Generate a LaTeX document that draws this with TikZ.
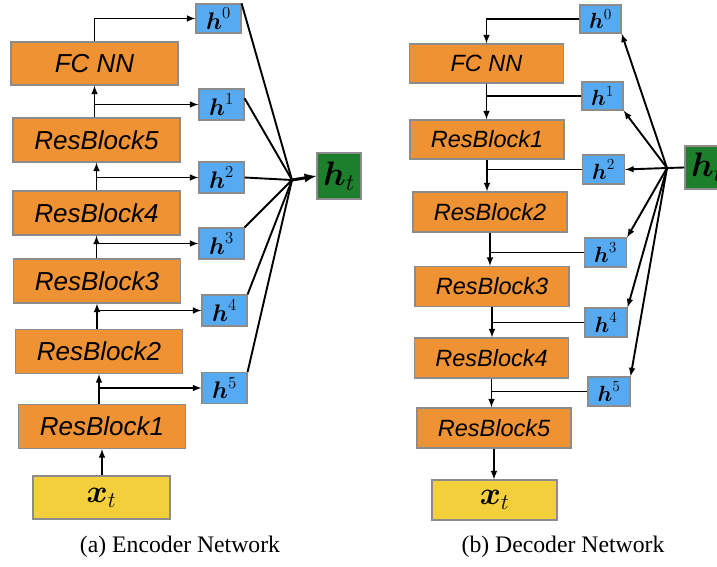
\RequirePackage{fix-cm}
\documentclass[tikz,border=0pt]{standalone}
\usepackage{amsmath}
\usepackage{amssymb}
\usepackage{fontspec}
\usepackage{xcolor}
\newfontfamily\blockfont{Liberation Sans}
\newfontfamily\capfont{Liberation Serif}
\definecolor{naranja}{HTML}{EE9233}
\definecolor{azul}{HTML}{56AAF2}
\definecolor{verde}{HTML}{1D7F2B}
\definecolor{amarillo}{HTML}{F2CF3B}
\definecolor{borde}{HTML}{8C8C8C}

\begin{document}
\begin{tikzpicture}[x=1pt, y=-1pt,
  caja/.style={draw=borde, line width=1.2pt, inner sep=0pt},
  bloque/.style={caja, fill=naranja, minimum width=167pt, minimum height=44pt,
    font=\blockfont\itshape\fontsize{26}{26}\selectfont},
  bloqued/.style={bloque, minimum width=154pt, minimum height=40pt,
    font=\blockfont\itshape\fontsize{23.5}{23.5}\selectfont},
  oculto/.style={caja, fill=azul, minimum width=45pt, minimum height=31pt,
    font=\fontsize{24}{24}\selectfont},
  ocultod/.style={oculto, minimum width=42pt, minimum height=29pt,
    font=\fontsize{22}{22}\selectfont},
  entrada/.style={caja, fill=amarillo, minimum height=43pt, font=\fontsize{32}{32}\selectfont},
  salida/.style={caja, fill=verde, font=\fontsize{34}{34}\selectfont},
  linea/.style={line width=1.9pt},
  flecha/.style={linea, -latex}]
\useasboundingbox (0,0) rectangle (717,567);
\clip (0,0) rectangle (717,567);

% Codificador
\node[entrada, minimum width=137pt] (ex) at (101.5,497.5) {$\boldsymbol{x}_t$};
\node[bloque] (erb1) at (102,426.5) {ResBlock1};
\node[bloque] (erb2) at (99,351.5) {ResBlock2};
\node[bloque] (erb3) at (97,281) {ResBlock3};
\node[bloque] (erb4) at (96.5,213) {ResBlock4};
\node[bloque] (erb5) at (96.5,140) {ResBlock5};
\node[bloque, minimum height=43pt] (efc) at (94.5,63.5) {FC NN};
\node[oculto, minimum height=29pt] (eh0) at (218.5,18.5) {$\boldsymbol{h}^0$};
\node[oculto] (eh1) at (221.5,104.5) {$\boldsymbol{h}^1$};
\node[oculto] (eh2) at (221.5,177.5) {$\boldsymbol{h}^2$};
\node[oculto] (eh3) at (221.5,243.5) {$\boldsymbol{h}^3$};
\node[oculto] (eh4) at (224.5,310.5) {$\boldsymbol{h}^4$};
\node[oculto] (eh5) at (224.5,388) {$\boldsymbol{h}^5$};
\node[salida, minimum width=44pt, minimum height=46pt] (eht) at (339,176) {$\boldsymbol{h}_t$};
\coordinate (ep) at (292,180);

\draw[flecha] (erb1.south |- ex.north) -- (erb1.south);
\draw[flecha] (erb2.south |- erb1.north) -- (erb2.south);
\draw[flecha] (erb2.south |- eh5.west) -- (eh5.west);
\draw[flecha] (erb3.south |- erb2.north) -- (erb3.south);
\draw[flecha] (erb3.south |- eh4.west) -- (eh4.west);
\draw[flecha] (erb4.south |- erb3.north) -- (erb4.south);
\draw[flecha] (erb4.south |- eh3.west) -- (eh3.west);
\draw[flecha] (erb5.south |- erb4.north) -- (erb5.south);
\draw[flecha] (erb5.south |- eh2.west) -- (eh2.west);
\draw[flecha] (efc.south |- erb5.north) -- (efc.south);
\draw[flecha] (efc.south |- eh1.west) -- (eh1.west);
\draw[flecha] (efc.north) |- (eh0.west);
\foreach \a in {eh0.north east, eh1.15, eh2.east, eh3.north east, eh4.north east, eh5.north east}
  \draw[linea] (\a) -- (ep);
\draw[line width=3pt, -{latex}] (ep) -- (eht.west);

% Decodificador
\node[ocultod, minimum width=41pt, minimum height=28pt] (dh0) at (600.5,19) {$\boldsymbol{h}^0$};
\node[bloqued, minimum height=39pt] (dfc) at (486.5,63.5) {FC NN};
\node[ocultod, minimum width=41pt, minimum height=28pt] (dh1) at (602.5,96) {$\boldsymbol{h}^1$};
\node[bloqued, minimum height=39pt] (drb1) at (487,139.5) {ResBlock1};
\node[ocultod] (dh2) at (603.5,169.5) {$\boldsymbol{h}^2$};
\node[bloqued] (drb2) at (490,212) {ResBlock2};
\node[ocultod] (dh3) at (605.5,252.5) {$\boldsymbol{h}^3$};
\node[bloqued] (drb3) at (492,286.5) {ResBlock3};
\node[ocultod] (dh4) at (606,322.5) {$\boldsymbol{h}^4$};
\node[bloqued] (drb4) at (491.5,358) {ResBlock4};
\node[ocultod] (dh5) at (609,391.5) {$\boldsymbol{h}^5$};
\node[bloqued] (drb5) at (494,428) {ResBlock5};
\node[entrada, minimum width=125pt, minimum height=40pt] (dx) at (494.5,500) {$\boldsymbol{x}_t$};
\node[salida, minimum width=44pt, minimum height=43pt] (dht) at (707,167.5) {$\boldsymbol{h}_t$};
\coordinate (dp) at (667,168);

\draw[flecha] (dh0.west) -| (dfc.north);
\draw[linea] (dh1.west) -- (dfc.south |- dh1.west);
\draw[flecha] (dfc.south) -- (dfc.south |- drb1.north);
\draw[linea] (dh2.west) -- (drb1.south |- dh2.west);
\draw[flecha] (drb1.south) -- (drb1.south |- drb2.north);
\draw[linea] (dh3.west) -- (drb2.south |- dh3.west);
\draw[flecha] (drb2.south) -- (drb2.south |- drb3.north);
\draw[linea] (dh4.west) -- (drb3.south |- dh4.west);
\draw[flecha] (drb3.south) -- (drb3.south |- drb4.north);
\draw[linea] (dh5.west) -- (drb4.south |- dh5.west);
\draw[flecha] (drb4.south) -- (drb4.south |- drb5.north);
\draw[flecha] (drb5.south) -- (drb5.south |- dx.north);
\draw[linea] (dht.west) -- (dp);
\foreach \a in {dh0.south east, dh1.south east, dh2.east, dh3.north east, dh4.north east, dh5.north east}
  \draw[flecha] (dp) -- (\a);

% Etiquetas
\node[font=\capfont\fontsize{23.7}{23.7}\selectfont] (capa) at (180,547) {(a) Encoder Network};
\node[font=\capfont\fontsize{23.7}{23.7}\selectfont] (capb) at (563,547) {(b) Decoder Network};
\end{tikzpicture}
\end{document}
